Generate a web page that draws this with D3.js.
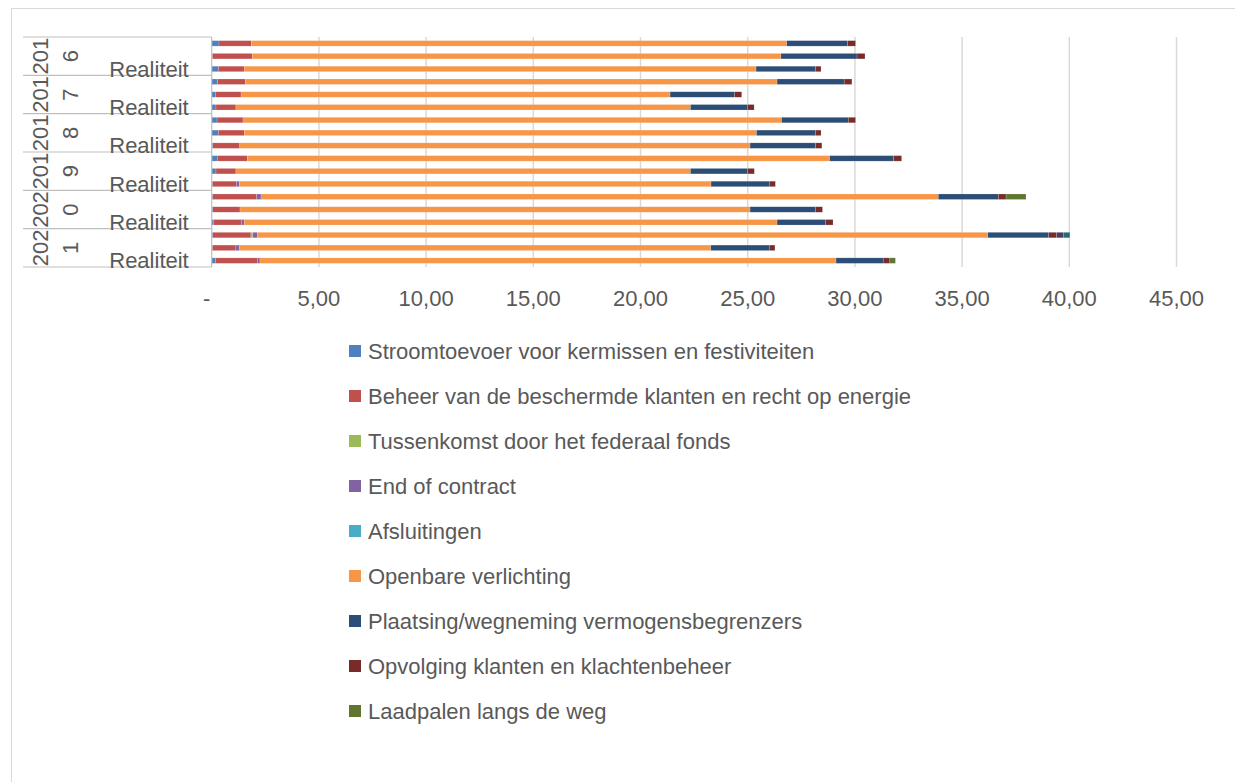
<!DOCTYPE html>
<html>
<head>
<meta charset="utf-8">
<script src="https://cdn.jsdelivr.net/npm/d3@7"></script>
<style>
  body { margin: 0; background: #fff; }
  svg text { font-family: "Liberation Sans", Arial, sans-serif; fill: #595959; }
</style>
</head>
<body>
<svg class="chart" width="1235" height="782"></svg>
<script>
// categories: 6 years x 3 bars, only "Realiteit" label is visible per group
const years = ["2016", "2017", "2018", "2019", "2020", "2021"];
const subCategories = ["Budget", "Prognose", "Realiteit"];

const seriesNames = [
  "Stroomtoevoer voor kermissen en festiviteiten",
  "Beheer van de beschermde klanten en recht op energie",
  "Tussenkomst door het federaal fonds",
  "End of contract",
  "Afsluitingen",
  "Openbare verlichting",
  "Plaatsing/wegneming vermogensbegrenzers",
  "Opvolging klanten en klachtenbeheer",
  "Laadpalen langs de weg",
  "Reeks 10",
  "Reeks 11"
];
const seriesColors = [
  "#4F81BD", "#C0504D", "#9BBB59", "#8064A2", "#4BACC6", "#F79646",
  "#2C4D75", "#772C2A", "#5F7530", "#4D3B62", "#276A7C"
];
const legendCount = 9; // legend box only shows the first nine

// values per series, top bar first
const stroomtoevoer = [0.34, 0.03, 0.31, 0.28, 0.17, 0.20, 0.25, 0.31, 0.05, 0.26, 0.20, 0.03, 0.05, 0.05, 0.10, 0.05, 0.03, 0.19];
const beheer        = [1.51, 1.86, 1.21, 1.29, 1.20, 0.93, 1.21, 1.21, 1.26, 1.40, 0.93, 1.12, 2.05, 1.27, 1.30, 1.78, 1.10, 1.94];
const tussenkomst   = [0, 0, 0, 0, 0, 0, 0, 0, 0, 0, 0, 0, 0, 0, 0, 0.09, 0, 0];
const endOfContract = [0, 0, 0, 0, 0, 0, 0, 0, 0, 0, 0, 0.14, 0.20, 0, 0.12, 0.22, 0.17, 0.12];
const afsluitingen  = [0, 0, 0, 0, 0, 0, 0, 0, 0, 0, 0, 0, 0, 0, 0, 0, 0, 0];
const verlichting   = [24.97, 24.66, 23.87, 24.80, 20.01, 21.20, 25.12, 23.89, 23.80, 27.16, 21.20, 22.00, 31.59, 23.79, 24.85, 34.06, 21.98, 26.87];
const begrenzers    = [2.84, 3.55, 2.77, 3.13, 3.00, 2.67, 3.11, 2.75, 3.06, 2.99, 2.67, 2.72, 2.80, 3.05, 2.27, 2.84, 2.73, 2.20];
const opvolging     = [0.37, 0.37, 0.26, 0.36, 0.34, 0.30, 0.34, 0.26, 0.29, 0.37, 0.31, 0.28, 0.36, 0.33, 0.34, 0.37, 0.26, 0.31];
const laadpalen     = [0, 0, 0, 0, 0, 0, 0, 0, 0, 0, 0, 0, 0.93, 0, 0, 0, 0, 0.26];
const reeks10       = [0, 0, 0, 0, 0, 0, 0, 0, 0, 0, 0, 0, 0, 0, 0, 0.31, 0, 0];
const reeks11       = [0, 0, 0, 0, 0, 0, 0, 0, 0, 0, 0, 0, 0, 0, 0, 0.31, 0, 0];

const seriesValues = [
  stroomtoevoer, beheer, tussenkomst, endOfContract, afsluitingen,
  verlichting, begrenzers, opvolging, laadpalen, reeks10, reeks11
];

const xTicks = [0, 5, 10, 15, 20, 25, 30, 35, 40, 45];

const TEXT_SIZE = 22;

function init() {
  const svg = d3.select(".chart");

  const categories = [];
  years.forEach(y => subCategories.forEach(s => categories.push(y + "|" + s)));

  const rows = categories.map((key, i) => {
    const row = { key };
    seriesNames.forEach((name, j) => (row[name] = seriesValues[j][i]));
    return row;
  });
  const stacked = d3.stack().keys(seriesNames)(rows);

  const x = d3.scaleLinear().domain([0, 45]).range([211.7, 1176.5]);
  const y = d3.scaleBand().domain(categories).range([37, 267]);
  const bw = y.bandwidth();
  const barH = bw * 0.43;

  // chart frame
  svg.append("rect")
    .attr("x", 11.5).attr("y", 8.5)
    .attr("width", 1230).attr("height", 780)
    .attr("fill", "none").attr("stroke", "#D9D9D9");

  // gridlines
  svg.append("g")
    .selectAll("line")
    .data(xTicks.slice(1))
    .join("line")
    .attr("x1", d => x(d)).attr("x2", d => x(d))
    .attr("y1", y.range()[0]).attr("y2", y.range()[1])
    .attr("stroke", "#D9D9D9")
    .attr("stroke-width", 1.5);

  // bars
  svg.append("g")
    .selectAll("g")
    .data(stacked)
    .join("g")
    .attr("fill", (d, i) => seriesColors[i])
    .selectAll("rect")
    .data(d => d.filter(p => p[1] - p[0] > 0))
    .join("rect")
    .attr("x", d => x(d[0]))
    .attr("width", d => x(d[1]) - x(d[0]))
    .attr("y", d => y(d.data.key) + (bw - barH) / 2)
    .attr("height", barH)
    .attr("stroke", "rgba(255,255,255,0.35)")
    .attr("stroke-width", 0.5);

  // category axis: group separators + axis line
  const axisG = svg.append("g").attr("stroke", "#BFBFBF").attr("stroke-width", 1.2);
  const bounds = years.map(yr => y(yr + "|" + subCategories[0]));
  bounds.push(y.range()[1]);
  axisG.selectAll("line.sep")
    .data(bounds)
    .join("line")
    .attr("class", "sep")
    .attr("x1", 23).attr("x2", x(0))
    .attr("y1", d => d).attr("y2", d => d);
  axisG.append("line")
    .attr("x1", x(0)).attr("x2", x(0))
    .attr("y1", y.range()[0]).attr("y2", y.range()[1]);

  // year labels, wrapped as "201" / "6" and rotated
  const yearG = svg.append("g")
    .selectAll("g")
    .data(years)
    .join("g")
    .attr("transform", (d, i) => `translate(0,${(bounds[i] + bounds[i + 1]) / 2})`);
  yearG.append("text")
    .attr("transform", "translate(40,0) rotate(-90)")
    .attr("text-anchor", "middle")
    .attr("dy", "0.35em")
    .style("font-size", TEXT_SIZE + "px")
    .text(d => d.slice(0, 3));
  yearG.append("text")
    .attr("transform", "translate(70,0) rotate(-90)")
    .attr("text-anchor", "middle")
    .attr("dy", "0.35em")
    .style("font-size", TEXT_SIZE + "px")
    .text(d => d.slice(3));

  // sub category labels: only every third one fits
  svg.append("g")
    .selectAll("text")
    .data(categories.filter(c => c.endsWith("|Realiteit")))
    .join("text")
    .attr("x", 149)
    .attr("y", d => y(d) + bw / 2)
    .attr("dy", "0.35em")
    .attr("text-anchor", "middle")
    .style("font-size", TEXT_SIZE + "px")
    .text(d => d.split("|")[1]);

  // value axis labels
  const fmt = d => (d === 0 ? "-" : d3.format(".2f")(d).replace(".", ","));
  svg.append("g")
    .selectAll("text")
    .data(xTicks)
    .join("text")
    .attr("x", d => x(d))
    .attr("dx", d => (d === 0 ? -5 : 0))
    .attr("y", 298)
    .attr("dy", "0.35em")
    .attr("text-anchor", "middle")
    .style("font-size", TEXT_SIZE + "px")
    .text(fmt);

  // legend
  const legend = svg.append("g")
    .selectAll("g")
    .data(seriesNames.slice(0, legendCount))
    .join("g")
    .attr("transform", (d, i) => `translate(349,${351 + i * 45})`);
  legend.append("rect")
    .attr("x", 0).attr("y", -6)
    .attr("width", 12).attr("height", 12)
    .attr("fill", (d, i) => seriesColors[i]);
  legend.append("text")
    .attr("x", 19)
    .attr("dy", "0.35em")
    .style("font-size", TEXT_SIZE + "px")
    .text(d => d);
}

init();
</script>
</body>
</html>
